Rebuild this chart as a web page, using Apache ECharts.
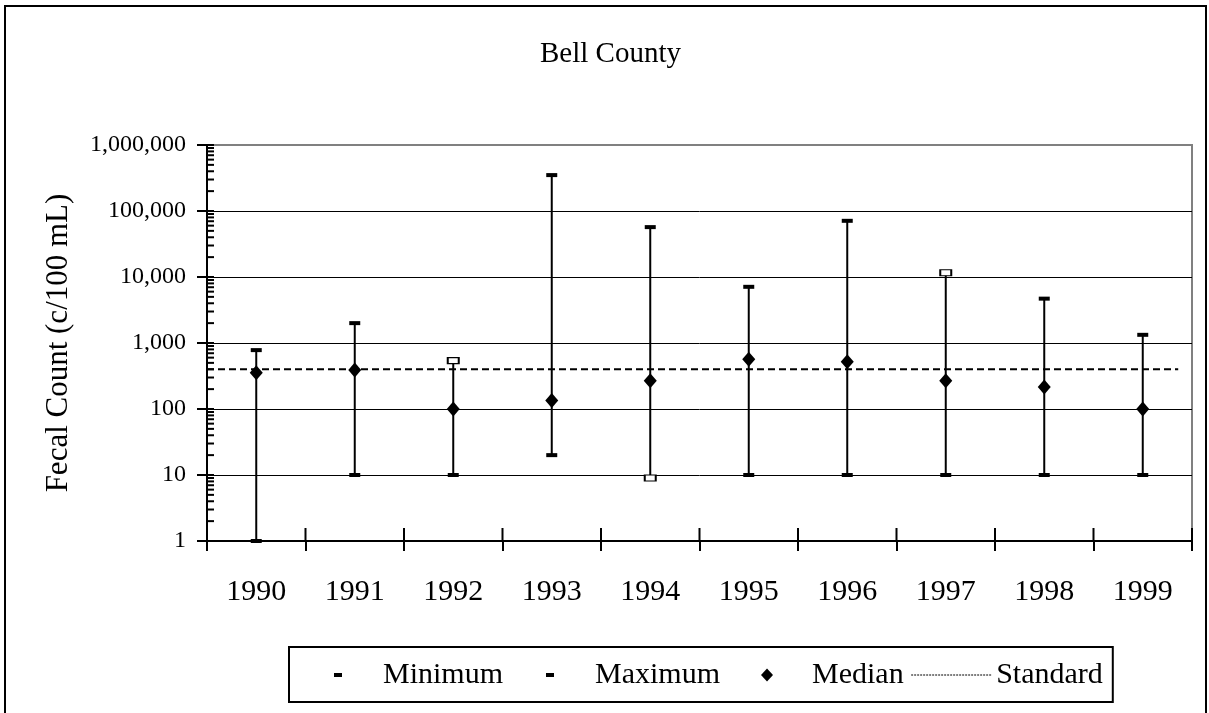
<!DOCTYPE html>
<html>
<head>
<meta charset="utf-8">
<script src="https://cdn.jsdelivr.net/npm/echarts@6/dist/echarts.min.js"></script>
<style>html,body{margin:0;padding:0;background:#fff;}#c{width:1209px;height:713px;}</style>
</head>
<body>
<div id="c"></div>
<script>
const categories = ['1990','1991','1992','1993','1994','1995','1996','1997','1998','1999'];
const minVals = [1, 10, 10, 20, 9, 10, 10, 10, 10, 10];
const maxVals = [780, 2000, 540, 350000, 57000, 7100, 71000, 11600, 4700, 1330];
const medianVals = [355, 390, 100, 134, 268, 565, 520, 268, 215, 100];
const standardValue = 400;
const standardSpan = [0, 9.86];
const yTickLabels = [1, 10, 100, 1000, 10000, 100000, 1000000];
const minorMultipliers = [2, 3, 4, 5, 6, 7, 8, 9];
const hollowMaxYears = ['1992', '1997'];
const hollowMinYears = ['1994'];

const FONT = 'Liberation Serif';
const innerTickValues = [];
yTickLabels.forEach(function (d, k) {
  innerTickValues.push(d);
  if (k < yTickLabels.length - 1) minorMultipliers.forEach(function (m) { innerTickValues.push(d * m); });
});

const hollowStyle = { color: '#fff', borderColor: '#000', borderWidth: 1.5 };
function markerData(vals, hollowYears) {
  return vals.map(function (v, i) {
    return hollowYears.indexOf(categories[i]) >= 0
      ? { value: [i, v], itemStyle: hollowStyle, symbolSize: [11, 6] }
      : { value: [i, v] };
  });
}

const iconDash = 'path://M0,0M80,30M36,13H44V17H36Z';
const iconDiamond = 'path://M0,0M80,30M40,8.5L46,15L40,21.5L34,15Z';

const chart = echarts.init(document.getElementById('c'));
chart.setOption({
  animation: false,
  backgroundColor: '#fff',
  title: {
    text: 'Bell County', left: 540, top: 40, padding: 0,
    textStyle: { fontFamily: FONT, fontSize: 29, fontWeight: 'normal', color: '#000' }
  },
  graphic: [{
    type: 'rect', silent: true, z: 100,
    shape: { x: 5, y: 6, width: 1201, height: 740 },
    style: { fill: null, stroke: '#000', lineWidth: 2 }
  }],
  legend: {
    left: 289, top: 647,
    padding: [13, 10, 12, 9],
    borderColor: '#000', borderWidth: 2,
    itemWidth: 80, itemHeight: 30, itemGap: 7,
    selectedMode: false,
    textStyle: { fontFamily: FONT, fontSize: 30, color: '#000' },
    data: [
      { name: 'Minimum', icon: iconDash, itemStyle: { color: '#000' } },
      { name: 'Maximum', icon: iconDash, itemStyle: { color: '#000' } },
      { name: 'Median', icon: iconDiamond, itemStyle: { color: '#000' } },
      { name: 'Standard', itemStyle: { color: '#000', opacity: 0 },
        lineStyle: { width: 1, type: [2, 1], color: '#000', opacity: 1 } }
    ]
  },
  grid: {
    left: 207, right: 17, top: 145, bottom: 172,
    show: true, borderColor: '#808080', borderWidth: 2, backgroundColor: 'transparent'
  },
  xAxis: [{
    type: 'category', data: categories, boundaryGap: true,
    axisLine: { lineStyle: { color: '#000', width: 2 } },
    axisTick: { show: true, length: 10, interval: 0, lineStyle: { color: '#000', width: 2 } },
    axisLabel: { margin: 36, fontFamily: FONT, fontSize: 30, color: '#000', interval: 0 },
    splitLine: { show: false }
  }, {
    type: 'value', min: 0, max: 10, show: false
  }],
  yAxis: {
    type: 'log', logBase: 10, min: 1, max: 1000000,
    name: 'Fecal Count (c/100 mL)', nameLocation: 'middle', nameRotate: 90, nameGap: 133,
    nameTextStyle: { fontFamily: FONT, fontSize: 31, color: '#000' },
    axisLine: { show: true, lineStyle: { color: '#000', width: 2 } },
    axisTick: { show: true, length: 10, lineStyle: { color: '#000', width: 2 } },
    axisLabel: {
      margin: 21, fontFamily: FONT, fontSize: 24, color: '#000', padding: [4, 0, 0, 0],
      formatter: function (v) { return Number(v).toLocaleString('en-US'); }
    },
    splitLine: { show: true, lineStyle: { color: ['#000', '#000', '#000', '#000', '#000', '#000', '#808080'], width: 1 } }
  },
  series: [
    {
      name: 'innerYTicks', type: 'custom', silent: true, z: 5,
      data: innerTickValues.map(function (v) { return [0, v]; }),
      encode: { x: 0, y: 1 },
      renderItem: function (params, api) {
        const p = api.coord([0, api.value(1)]);
        const band = api.size([1, 0])[0];
        const x0 = p[0] - band / 2;
        return { type: 'line', shape: { x1: x0, y1: p[1], x2: x0 + 7, y2: p[1] },
                 style: { stroke: '#000', lineWidth: 2 } };
      }
    },
    {
      name: 'innerXTicks', type: 'custom', silent: true, z: 5,
      data: categories.map(function (c, i) { return [i, 1]; }),
      encode: { x: 0, y: 1 },
      renderItem: function (params, api) {
        const i = api.value(0);
        const p = api.coord([i, 1]);
        const band = api.size([1, 0])[0];
        const children = [{ type: 'line', shape: { x1: p[0] - band / 2, y1: p[1], x2: p[0] - band / 2, y2: p[1] - 13 },
                            style: { stroke: '#000', lineWidth: 2 } }];
        if (i === categories.length - 1) {
          children.push({ type: 'line', shape: { x1: p[0] + band / 2, y1: p[1], x2: p[0] + band / 2, y2: p[1] - 13 },
                          style: { stroke: '#000', lineWidth: 2 } });
        }
        return { type: 'group', children: children };
      }
    },
    {
      name: 'range', type: 'custom', silent: true, z: 3,
      data: categories.map(function (c, i) { return [i, minVals[i], maxVals[i]]; }),
      encode: { x: 0, y: [1, 2] },
      renderItem: function (params, api) {
        const a = api.coord([api.value(0), api.value(1)]);
        const b = api.coord([api.value(0), api.value(2)]);
        return { type: 'line', shape: { x1: a[0], y1: a[1], x2: b[0], y2: b[1] },
                 style: { stroke: '#000', lineWidth: 2 } };
      }
    },
    {
      name: 'Standard', type: 'line', xAxisIndex: 1, z: 2,
      data: [[standardSpan[0], standardValue], [standardSpan[1], standardValue]],
      showSymbol: false, symbol: 'none', silent: true,
      itemStyle: { color: '#000' },
      lineStyle: { color: '#000', width: 2, type: [7, 4] }
    },
    {
      name: 'Minimum', type: 'scatter', z: 4, symbol: 'rect', symbolSize: [11, 4],
      itemStyle: { color: '#000', opacity: 1 }, silent: true,
      data: markerData(minVals, hollowMinYears)
    },
    {
      name: 'Maximum', type: 'scatter', z: 4, symbol: 'rect', symbolSize: [11, 4],
      itemStyle: { color: '#000', opacity: 1 }, silent: true,
      data: markerData(maxVals, hollowMaxYears)
    },
    {
      name: 'Median', type: 'scatter', z: 6, symbol: 'diamond', symbolSize: [13, 15],
      itemStyle: { color: '#000', opacity: 1 }, silent: true,
      data: medianVals.map(function (v, i) { return [i, v]; })
    }
  ]
});
</script>
</body>
</html>
